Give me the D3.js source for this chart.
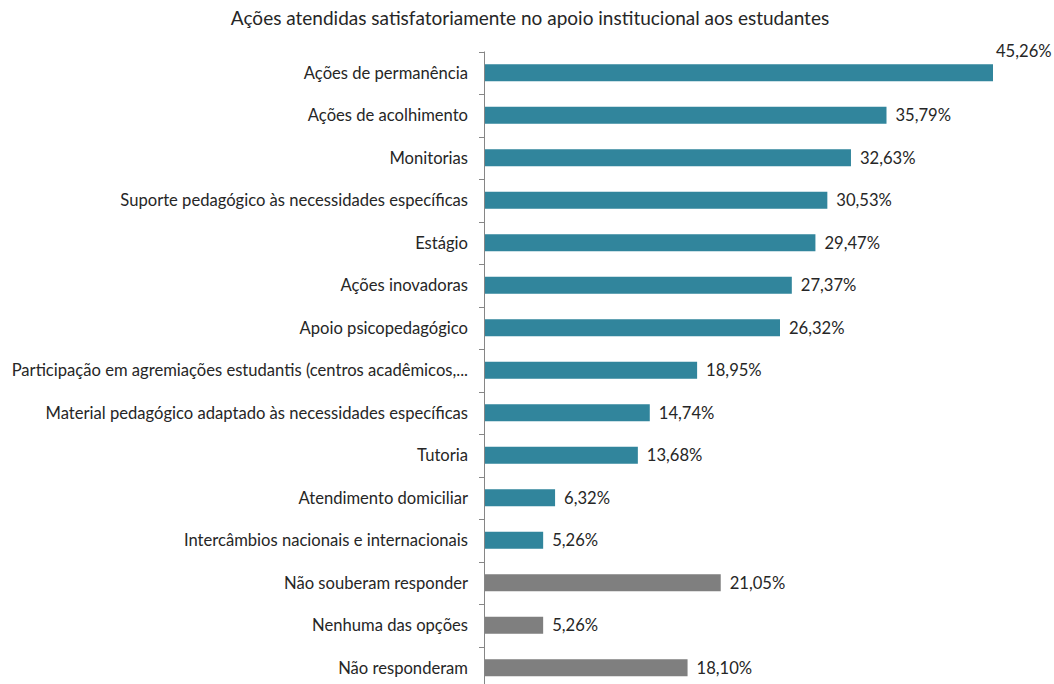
<!DOCTYPE html>
<html>
<head>
<meta charset="utf-8">
<script src="https://cdn.jsdelivr.net/npm/d3@7"></script>
<style>
  html, body { margin: 0; padding: 0; background: #fff; }
  svg { display: block; font-family: Lato, "Liberation Sans", sans-serif; }
</style>
</head>
<body>
<svg id="chart" width="1054" height="684"></svg>
<script>
const title = "Ações atendidas satisfatoriamente no apoio institucional aos estudantes";

const categories = [
  "Ações de permanência",
  "Ações de acolhimento",
  "Monitorias",
  "Suporte pedagógico às necessidades específicas",
  "Estágio",
  "Ações inovadoras",
  "Apoio psicopedagógico",
  "Participação em agremiações estudantis (centros acadêmicos,...",
  "Material pedagógico adaptado às necessidades específicas",
  "Tutoria",
  "Atendimento domiciliar",
  "Intercâmbios nacionais e internacionais",
  "Não souberam responder",
  "Nenhuma das opções",
  "Não responderam"
];

const values = [45.26, 35.79, 32.63, 30.53, 29.47, 27.37, 26.32, 18.95, 14.74, 13.68, 6.32, 5.26, 21.05, 5.26, 18.10];

// Last three rows are the "no answer" group, drawn in grey
const groups = ["acao", "acao", "acao", "acao", "acao", "acao", "acao", "acao", "acao", "acao", "acao", "acao", "outro", "outro", "outro"];

const colors = { acao: "#31859c", outro: "#7f7f7f" };

const svg = d3.select("#chart");
const W = 1054, H = 684;
const margin = { top: 51.5, left: 484, right: 61 };

const x = d3.scaleLinear()
  .domain([0, 45.26])
  .range([margin.left, W - margin.right]);

const y = d3.scaleBand()
  .domain(categories)
  .range([margin.top, margin.top + 42.5 * categories.length])
  .paddingInner(0.6)
  .paddingOuter(0.3);

const textColor = "#262626";

// Title
svg.append("text")
  .attr("x", 530)
  .attr("y", 25)
  .attr("text-anchor", "middle")
  .attr("font-size", 19)
  .attr("fill", textColor)
  .text(title);

// Bars
svg.append("g")
  .selectAll("rect")
  .data(categories)
  .join("rect")
  .attr("x", x(0))
  .attr("y", d => y(d))
  .attr("width", (d, i) => x(values[i]) - x(0))
  .attr("height", y.bandwidth())
  .attr("fill", (d, i) => colors[groups[i]]);

// Vertical category axis with tick marks at the row boundaries
const step = y.step();
const axisG = svg.append("g").attr("stroke", "#868686").attr("stroke-width", 1);
axisG.append("line")
  .attr("x1", margin.left + 0.5).attr("x2", margin.left + 0.5)
  .attr("y1", margin.top).attr("y2", margin.top + step * categories.length);
axisG.selectAll("line.tick")
  .data(d3.range(categories.length + 1))
  .join("line")
  .attr("class", "tick")
  .attr("x1", margin.left - 5).attr("x2", margin.left + 0.5)
  .attr("y1", i => Math.round(margin.top + i * step) + 0.5)
  .attr("y2", i => Math.round(margin.top + i * step) + 0.5);

// Category labels
svg.append("g")
  .selectAll("text")
  .data(categories)
  .join("text")
  .attr("x", margin.left - 16)
  .attr("y", d => y(d) + y.bandwidth() / 2)
  .attr("dy", "0.35em")
  .attr("text-anchor", "end")
  .attr("font-size", 16.6)
  .attr("fill", textColor)
  .text(d => d);

// Value labels; a label that would run past the edge sits above its bar end
const fmt = v => d3.format(".2f")(v).replace(".", ",") + "%";
svg.append("g")
  .selectAll("text")
  .data(categories)
  .join("text")
  .attr("font-size", 16.6)
  .attr("fill", textColor)
  .attr("dy", "0.35em")
  .text((d, i) => fmt(values[i]))
  .each(function (d, i) {
    const t = d3.select(this);
    const w = this.getComputedTextLength();
    let lx = x(values[i]) + 9;
    let ly = y(d) + y.bandwidth() / 2;
    if (lx + w > W - 2) {
      lx = x(values[i]) + 3;
      ly = y(d) - 13;
    }
    t.attr("x", lx).attr("y", ly);
  });
</script>
</body>
</html>
